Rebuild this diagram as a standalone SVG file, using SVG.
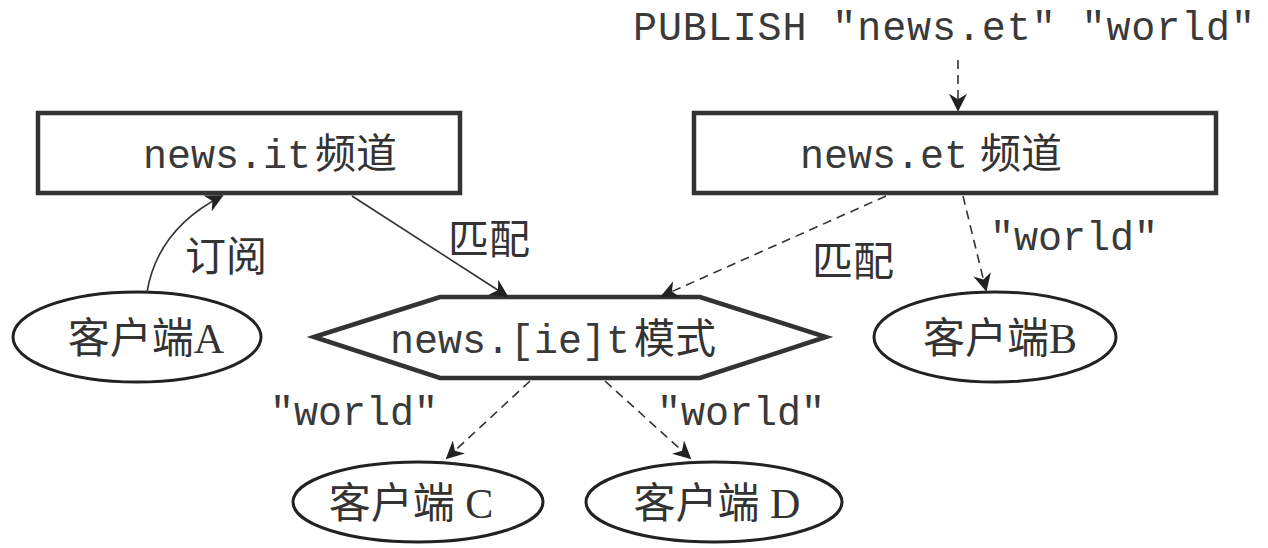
<svg xmlns="http://www.w3.org/2000/svg" width="1268" height="548" viewBox="0 0 1268 548">
<style>
.box{fill:#fff;stroke:#333;stroke-width:4.5}
.ell{fill:#fff;stroke:#222;stroke-width:3}
.mono{font-family:"Liberation Mono","Noto Sans CJK SC",monospace;font-size:40px;fill:#3a3a3a}
.cjk{font-family:"Liberation Serif","Noto Sans CJK SC",serif;font-size:41px;fill:#333}
.big{font-size:42px}
.edge{fill:none;stroke:#333;stroke-width:1.6}
.dash{stroke-dasharray:9 6}
</style>
<defs>
<marker id="ahb" viewBox="0 0 10 10" refX="9" refY="5" markerWidth="20" markerHeight="18" markerUnits="userSpaceOnUse" orient="auto">
<path d="M0,0 L10,5 L0,10 L3,5 Z" fill="#222"/>
</marker>
</defs>
<text class="mono" x="633" y="40" textLength="622" lengthAdjust="spacing">PUBLISH "news.et" "world"</text>
<g id="news-it">
<rect class="box" x="38" y="113" width="422" height="80"/>
<text class="mono" x="143" y="168">news.it<tspan class="cjk" dx="4">频道</tspan></text>
</g>
<g id="news-et">
<rect class="box" x="694" y="113" width="522" height="80"/>
<text class="mono" x="800" y="168">news.et<tspan class="cjk" dx="12">频道</tspan></text>
</g>
<g id="pattern">
<polygon class="box" points="314,337 440,297 700,297 826,337 700,378 440,378"/>
<text class="mono" x="390" y="353">news.[ie]t<tspan class="cjk" dx="4">模式</tspan></text>
</g>
<g id="client-a">
<ellipse class="ell" cx="137" cy="337" rx="124" ry="45"/>
<text class="cjk big" x="146" y="353" text-anchor="middle">客户端A</text>
</g>
<g id="client-b">
<ellipse class="ell" cx="995" cy="337" rx="121" ry="45"/>
<text class="cjk big" x="1000" y="353" text-anchor="middle">客户端B</text>
</g>
<g id="client-c">
<ellipse class="ell" cx="418" cy="502" rx="125" ry="40"/>
<text class="cjk big" x="411" y="518" text-anchor="middle">客户端 C</text>
</g>
<g id="client-d">
<ellipse class="ell" cx="714" cy="502" rx="128" ry="40"/>
<text class="cjk big" x="717" y="518" text-anchor="middle">客户端 D</text>
</g>
<g id="connectors">
<path class="edge dash" d="M958,60 L958,110" marker-end="url(#ahb)"/>
<path class="edge" d="M147,292 C155,245 185,215 222,196" marker-end="url(#ahb)"/>
<path class="edge" d="M352,196 L507,296" marker-end="url(#ahb)"/>
<path class="edge dash" d="M886,196 L662,296" marker-end="url(#ahb)"/>
<path class="edge dash" d="M963,196 L986,290" marker-end="url(#ahb)"/>
<path class="edge dash" d="M530,381 L447,458" marker-end="url(#ahb)"/>
<path class="edge dash" d="M605,381 L690,458" marker-end="url(#ahb)"/>
</g>
<g id="labels">
<text class="cjk" x="185" y="271">订阅</text>
<text class="cjk" x="448" y="254">匹配</text>
<text class="cjk" x="812" y="276">匹配</text>
<text class="mono" x="990" y="250">"world"</text>
<text class="mono" x="270" y="425">"world"</text>
<text class="mono" x="657" y="425">"world"</text>
</g>
</svg>
